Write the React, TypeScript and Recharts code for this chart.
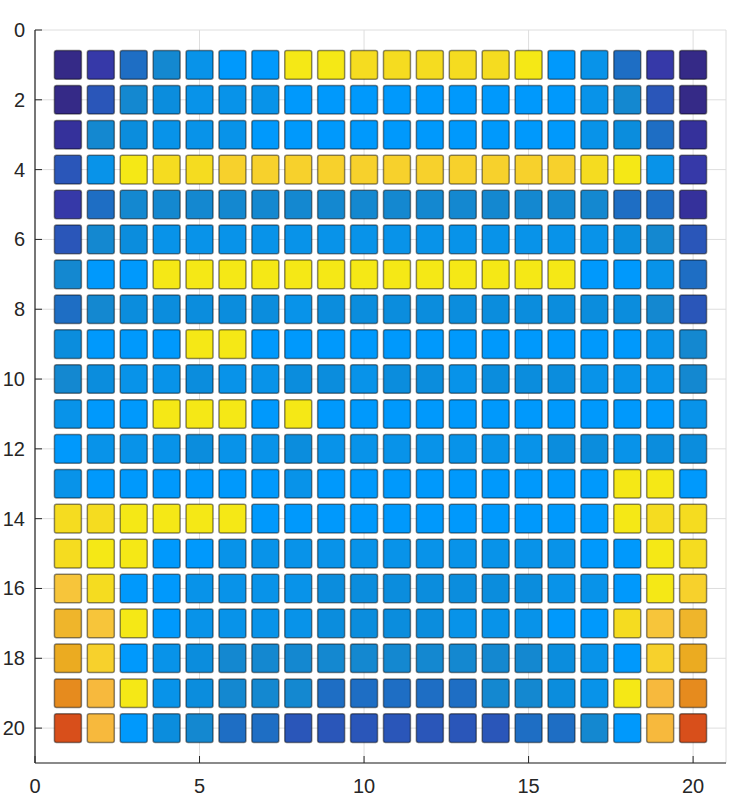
import React from "react";
import { ScatterChart, Scatter, XAxis, YAxis, CartesianGrid } from "recharts";

// colour levels, dark navy -> blues -> yellows -> orange/red
const PALETTE = [
  "#352a87", "#35319b", "#3639a8", "#2a56b9", "#1e6ec4", "#1488d0",
  "#0b8ddd", "#0893e9", "#0099fc", "#f5e816", "#f5dc20", "#f7d12c",
  "#f7c53a", "#f7b93d", "#efb52b", "#ebab21", "#e68b1e", "#d84f1b",
];

const COLS = [1, 2, 3, 4, 5, 6, 7, 8, 9, 10, 11, 12, 13, 14, 15, 16, 17, 18, 19, 20];

// one list of colour levels per row (row 1 at the top)
const ROW_1 = [0, 2, 4, 5, 7, 8, 8, 9, 9, 10, 10, 10, 10, 10, 9, 8, 7, 4, 2, 0];
const ROW_2 = [0, 3, 5, 6, 7, 7, 7, 8, 8, 8, 8, 8, 8, 8, 8, 8, 7, 5, 3, 0];
const ROW_3 = [1, 5, 6, 7, 7, 7, 8, 8, 8, 8, 8, 8, 8, 8, 8, 8, 7, 6, 4, 1];
const ROW_4 = [3, 7, 9, 10, 10, 11, 11, 11, 11, 11, 11, 11, 11, 11, 11, 11, 10, 9, 7, 2];
const ROW_5 = [2, 4, 5, 5, 5, 5, 5, 5, 5, 5, 5, 5, 5, 5, 5, 5, 5, 4, 4, 1];
const ROW_6 = [3, 5, 6, 7, 7, 7, 7, 7, 7, 7, 7, 7, 7, 7, 7, 7, 7, 6, 5, 3];
const ROW_7 = [5, 8, 8, 9, 9, 9, 9, 9, 9, 9, 9, 9, 9, 9, 9, 9, 8, 8, 7, 4];
const ROW_8 = [4, 5, 6, 6, 6, 6, 6, 7, 6, 6, 6, 6, 6, 6, 6, 6, 6, 6, 5, 3];
const ROW_9 = [6, 8, 8, 8, 9, 9, 8, 8, 8, 8, 8, 8, 8, 8, 8, 8, 8, 8, 7, 5];
const ROW_10 = [5, 6, 7, 7, 6, 7, 7, 6, 6, 7, 6, 6, 7, 6, 6, 6, 7, 7, 7, 5];
const ROW_11 = [7, 8, 8, 9, 9, 9, 8, 9, 8, 8, 8, 8, 8, 8, 8, 8, 8, 8, 8, 7];
const ROW_12 = [8, 7, 7, 7, 6, 7, 7, 6, 7, 7, 7, 7, 7, 7, 7, 6, 6, 7, 6, 6];
const ROW_13 = [7, 8, 8, 8, 8, 8, 8, 7, 8, 8, 8, 8, 8, 8, 8, 8, 8, 9, 9, 8];
const ROW_14 = [10, 10, 9, 9, 9, 9, 8, 8, 8, 8, 8, 8, 8, 8, 8, 8, 8, 9, 10, 10];
const ROW_15 = [10, 9, 9, 8, 8, 7, 7, 7, 7, 7, 7, 7, 7, 7, 7, 7, 8, 8, 9, 10];
const ROW_16 = [12, 10, 8, 8, 7, 7, 7, 7, 6, 6, 6, 6, 6, 6, 6, 7, 7, 8, 9, 11];
const ROW_17 = [14, 12, 9, 8, 7, 7, 7, 7, 6, 6, 6, 6, 7, 7, 7, 8, 8, 10, 12, 14];
const ROW_18 = [15, 11, 8, 7, 6, 5, 5, 5, 5, 5, 5, 5, 5, 5, 5, 6, 7, 8, 11, 15];
const ROW_19 = [16, 13, 9, 7, 6, 5, 5, 5, 4, 4, 4, 4, 4, 5, 5, 6, 7, 9, 13, 16];
const ROW_20 = [17, 13, 8, 6, 5, 4, 4, 3, 3, 3, 3, 3, 3, 3, 4, 4, 5, 8, 13, 17];

const ROWS = [
  ROW_1, ROW_2, ROW_3, ROW_4, ROW_5, ROW_6, ROW_7, ROW_8, ROW_9, ROW_10,
  ROW_11, ROW_12, ROW_13, ROW_14, ROW_15, ROW_16, ROW_17, ROW_18, ROW_19, ROW_20,
];

const X_TICKS = [0, 5, 10, 15, 20];
const Y_TICKS = [0, 2, 4, 6, 8, 10, 12, 14, 16, 18, 20];

const W = 750;
const H = 805;
const MARGIN = { top: 30, right: 24, bottom: 0, left: 0 };
const Y_AXIS_W = 35;
const X_AXIS_H = 42;
const PLOT_W = W - MARGIN.left - MARGIN.right - Y_AXIS_W;
const PLOT_H = H - MARGIN.top - MARGIN.bottom - X_AXIS_H;
const CELL = 0.82; // fraction of a unit
const cellW = (PLOT_W / 21) * CELL;
const cellH = (PLOT_H / 21) * CELL;

const points = ROWS.flatMap((row, r) =>
  row.map((level, c) => ({ x: COLS[c], y: r + 1, level }))
);

const AXIS = "#262626";
const FONT = "'Liberation Sans', Arial, Helvetica, sans-serif";

function CellShape(props: any) {
  const { cx, cy, payload } = props;
  if (cx == null || cy == null) return null;
  return (
    <rect
      x={cx - cellW / 2}
      y={cy - cellH / 2}
      width={cellW}
      height={cellH}
      rx={2}
      ry={2}
      fill={PALETTE[payload.level]}
      stroke="#000"
      strokeOpacity={0.45}
      strokeWidth={1.5}
    />
  );
}

function YTick(props: any) {
  const { x, y, payload } = props;
  return (
    <g>
      <line x1={x} y1={y} x2={x + 7} y2={y} stroke={AXIS} />
      <text x={x - 10} y={y} dy={7} textAnchor="end" fill={AXIS} fontSize={20} fontFamily={FONT}>
        {payload.value}
      </text>
    </g>
  );
}

function XTick(props: any) {
  const { x, y, payload } = props;
  return (
    <g>
      <line x1={x} y1={y} x2={x} y2={y - 7} stroke={AXIS} />
      <text x={x} y={y + 30} textAnchor="middle" fill={AXIS} fontSize={20} fontFamily={FONT}>
        {payload.value}
      </text>
    </g>
  );
}

export default function App() {
  return (
    <div style={{ position: "absolute", left: 0, top: 0, background: "#fff" }}>
      <ScatterChart width={W} height={H} margin={MARGIN}>
        <CartesianGrid stroke="#dedede" strokeWidth={1} />
        <XAxis
          type="number"
          dataKey="x"
          domain={[0, 21]}
          ticks={X_TICKS}
          interval={0}
          height={X_AXIS_H}
          tickSize={0}
          tickMargin={0}
          tickLine={false}
          axisLine={{ stroke: AXIS, strokeWidth: 1.2 }}
          tick={XTick}
        />
        <YAxis
          type="number"
          dataKey="y"
          domain={[0, 21]}
          reversed
          ticks={Y_TICKS}
          interval={0}
          width={Y_AXIS_W}
          tickSize={0}
          tickMargin={0}
          tickLine={false}
          axisLine={{ stroke: AXIS, strokeWidth: 1.2 }}
          tick={YTick}
        />
        <Scatter data={points} shape={CellShape} isAnimationActive={false} />
      </ScatterChart>
    </div>
  );
}
